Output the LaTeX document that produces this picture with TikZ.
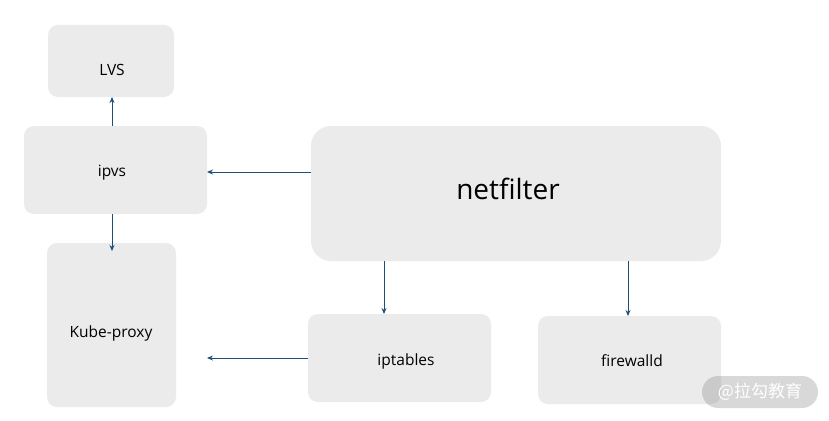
\documentclass[tikz,border=0pt]{standalone}
\usepackage{fontspec}
\setmainfont{Open Sans}
\newfontfamily\cjk{Noto Sans CJK SC}
\usetikzlibrary{arrows.meta}
\definecolor{boxgray}{HTML}{EBEBEB}
\definecolor{arrowblue}{HTML}{1F4E79}
\tikzset{
  gbox/.style={fill=boxgray, draw=none, rounded corners=10pt},
  lbl/.style={font=\fontsize{15.5}{18}\selectfont, text=black},
  conn/.style={draw=arrowblue, line width=0.9pt, -{Stealth[length=6pt,width=5pt]}}
}
\begin{document}
\begin{tikzpicture}[x=1pt,y=-1pt]
\useasboundingbox (0,0) rectangle (829,420);
\fill[white] (0,0) rectangle (829,420);
\path[gbox] (48,25) rectangle (174,97);
\path[gbox] (24,126) rectangle (207,214);
\path[gbox] (47,243) rectangle (176,407);
\path[gbox, rounded corners=20pt] (311,126) rectangle (721,261);
\path[gbox] (308,314) rectangle (491,402);
\path[gbox] (538,316) rectangle (721,404);
\node[lbl] (lvs) at (112,70) {LVS};
\node[lbl] (ipvs) at (112,173) {ipvs};
\node[lbl] (kube) at (111,333) {Kube-proxy};
\node[font=\fontsize{28}{32}\selectfont] (net) at (508,189) {netfilter};
\node[lbl] (ipt) at (406,361) {iptables};
\node[lbl] (fw) at (632,361) {firewalld};
\coordinate (a1s) at (112,126); \coordinate (a1e) at (112,97);
\coordinate (a2s) at (112,214); \coordinate (a2e) at (112,251);
\coordinate (a3s) at (311,172); \coordinate (a3e) at (207,172);
\coordinate (a4s) at (384,261); \coordinate (a4e) at (384,314);
\coordinate (a5s) at (628,261); \coordinate (a5e) at (628,316);
\coordinate (a6s) at (308,358); \coordinate (a6e) at (207,358);
\draw[conn] (a1s) -- (a1e);
\draw[conn] (a2s) -- (a2e);
\draw[conn] (a3s) -- (a3e);
\draw[conn] (a4s) -- (a4e);
\draw[conn] (a5s) -- (a5e);
\draw[conn] (a6s) -- (a6e);
\fill[gray, opacity=0.3, rounded corners=16pt] (702,376) rectangle (818,408);
\node[text=white, font=\cjk\fontsize{17}{20}\selectfont] (wm) at (760,392) {@拉勾教育};
\end{tikzpicture}
\end{document}
